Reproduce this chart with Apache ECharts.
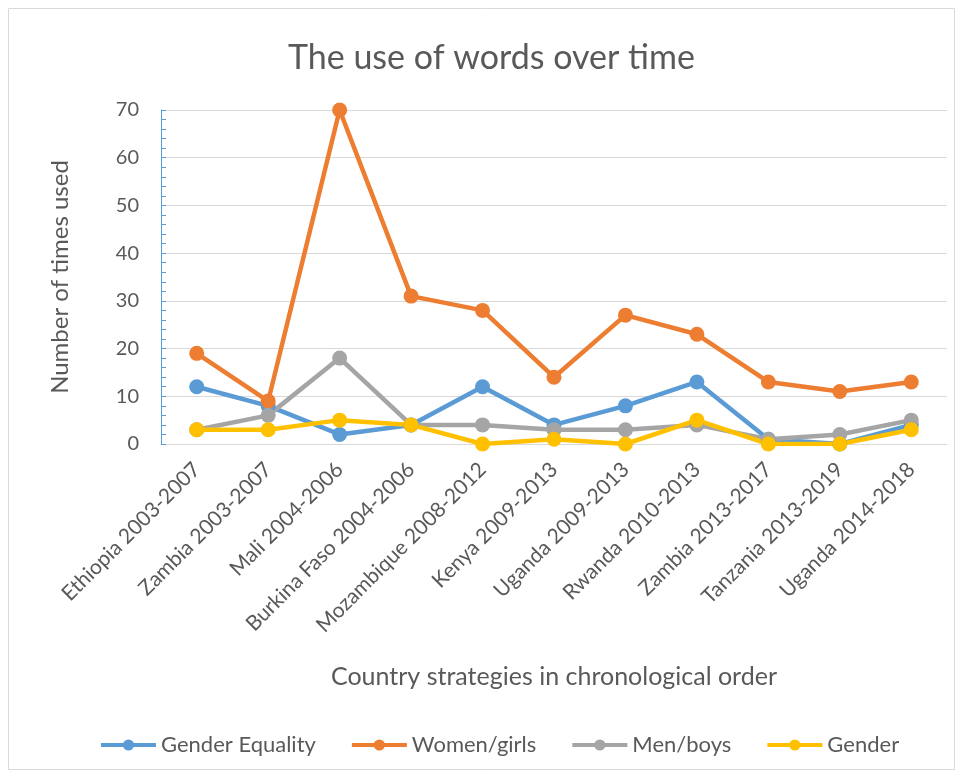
<!DOCTYPE html>
<html>
<head>
<meta charset="utf-8">
<script src="https://cdn.jsdelivr.net/npm/echarts@6/dist/echarts.min.js"></script>
<style>
  html, body { margin: 0; padding: 0; background: #fff; }
  #chart { width: 963px; height: 779px; }
</style>
</head>
<body>
<div id="chart"></div>
<script>
const categories = [
  'Ethiopia 2003-2007', 'Zambia 2003-2007', 'Mali 2004-2006', 'Burkina Faso 2004-2006',
  'Mozambique 2008-2012', 'Kenya 2009-2013', 'Uganda 2009-2013', 'Rwanda 2010-2013',
  'Zambia 2013-2017', 'Tanzania 2013-2019', 'Uganda 2014-2018'
];
const genderEquality = [12, 8, 2, 4, 12, 4, 8, 13, 1, 0, 4];
const womenGirls = [19, 9, 70, 31, 28, 14, 27, 23, 13, 11, 13];
const menBoys = [3, 6, 18, 4, 4, 3, 3, 4, 1, 2, 5];
const gender = [3, 3, 5, 4, 0, 1, 0, 5, 0, 0, 3];
const yTicks = [0, 10, 20, 30, 40, 50, 60, 70];

const font = 'Lato, "Open Sans", sans-serif';
const textColor = '#595959';

function line(name, data, color) {
  return {
    name, type: 'line', data,
    symbol: 'circle', symbolSize: 15,
    lineStyle: { width: 4.5, color },
    itemStyle: { color },
    emphasis: { disabled: true }
  };
}

const chart = echarts.init(document.getElementById('chart'));
chart.setOption({
  animation: false,
  textStyle: { fontFamily: font },
  graphic: [{
    type: 'rect',
    shape: { x: 8.5, y: 8.5, width: 946, height: 761 },
    style: { fill: 'none', stroke: '#d9d9d9', lineWidth: 1 },
    silent: true
  }],
  title: {
    text: 'The use of words over time',
    left: 283, top: 36,
    textStyle: { fontFamily: font, fontSize: 34, fontWeight: 'normal', color: textColor }
  },
  legend: {
    bottom: 18, left: 94,
    itemWidth: 55, itemHeight: 14, itemGap: 34,
    lineStyle: { width: 4 },
    textStyle: { fontFamily: font, fontSize: 22, color: textColor },
    data: ['Gender Equality', 'Women/girls', 'Men/boys', 'Gender']
  },
  grid: { left: 161, right: 16, top: 110, bottom: 335 },
  xAxis: {
    type: 'category',
    data: categories,
    boundaryGap: true,
    name: 'Country strategies in chronological order',
    nameLocation: 'middle',
    nameGap: 220,
    nameTextStyle: { fontFamily: font, fontSize: 25, color: textColor },
    axisLine: { lineStyle: { color: '#d9d9d9', width: 1 } },
    axisTick: { alignWithLabel: true, length: 6, lineStyle: { color: '#d9d9d9' } },
    axisLabel: { rotate: 45, fontSize: 21, color: textColor, margin: 22, interval: 0 }
  },
  yAxis: {
    type: 'value',
    min: 0, max: 70, interval: 10,
    name: 'Number of times used',
    nameLocation: 'middle',
    nameGap: 89,
    nameTextStyle: { fontFamily: font, fontSize: 24, color: textColor },
    axisLine: { show: true, lineStyle: { color: '#5b9bd5', width: 1 } },
    axisTick: { show: true, inside: true, length: 5, lineStyle: { color: '#5b9bd5' } },
    minorTick: { show: true, splitNumber: 5, length: 5, lineStyle: { color: '#5b9bd5' } },
    splitLine: { lineStyle: { color: '#d9d9d9', width: 1 } },
    axisLabel: {
      fontSize: 20, color: textColor, margin: 22,
      formatter: v => (yTicks.includes(v) ? String(v) : '')
    }
  },
  series: [
    line('Gender Equality', genderEquality, '#5b9bd5'),
    line('Women/girls', womenGirls, '#ed7d31'),
    line('Men/boys', menBoys, '#a5a5a5'),
    line('Gender', gender, '#ffc000')
  ]
});
</script>
</body>
</html>
